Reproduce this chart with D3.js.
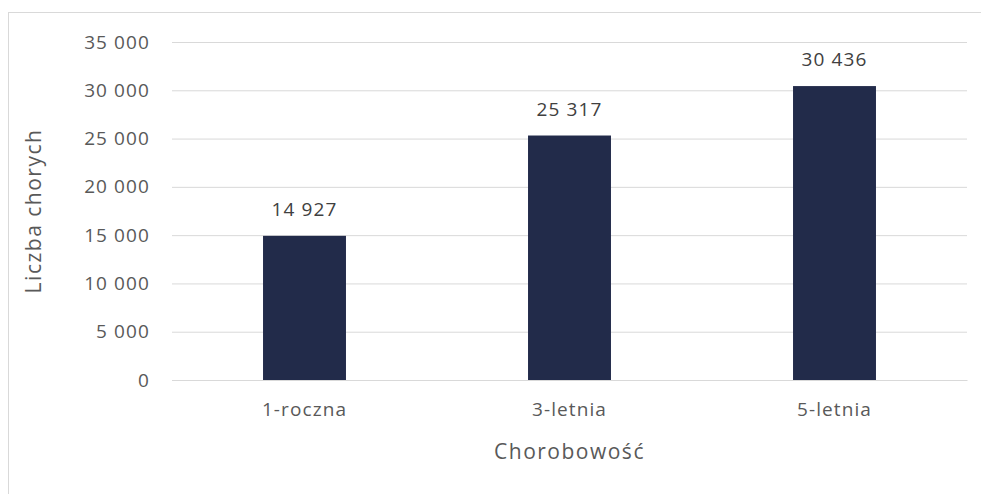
<!DOCTYPE html>
<html><head><meta charset="utf-8">
<script src="https://cdn.jsdelivr.net/npm/d3@7"></script>
<style>body{margin:0;background:#fff}svg{display:block}</style>
</head><body>
<script>
const categories = ["1-roczna", "3-letnia", "5-letnia"];
const values = [14927, 25317, 30436];
const yTicks = [0, 5000, 10000, 15000, 20000, 25000, 30000, 35000];
const yTitle = "Liczba chorych";
const xTitle = "Chorobowość";

const W = 981, H = 494;
const svg = d3.select("body").append("svg").attr("width", W).attr("height", H);
const font = "'Open Sans', Lato, sans-serif";
const fmt = v => d3.format(",")(v).replace(/,/g, " ");

svg.append("rect").attr("x", 8.5).attr("y", 12.5).attr("width", 980).attr("height", 500)
  .attr("fill", "none").attr("stroke", "#d9d9d9").attr("stroke-width", 1);

const m = {l: 172, r: 967, t: 42, b: 380};
const x = d3.scaleBand().domain(categories).range([m.l, m.r]).paddingInner(0.687).paddingOuter(0.3435);
const y = d3.scaleLinear().domain([0, 35000]).range([m.b, m.t]);

const gy = svg.append("g").attr("transform", `translate(${m.l},0)`)
  .call(d3.axisLeft(y).tickValues(yTicks).tickSize(-(m.r - m.l)).tickPadding(22).tickFormat(fmt));
gy.select(".domain").remove();
gy.selectAll(".tick line").attr("stroke", "#d9d9d9").attr("stroke-width", 1);
gy.selectAll(".tick text").attr("fill", "#595959").style("font-family", font)
  .style("font-size", "19px").style("letter-spacing", "1.1px");

svg.selectAll("rect.bar").data(values).join("rect").attr("class", "bar")
  .attr("x", (d, i) => x(categories[i])).attr("width", x.bandwidth())
  .attr("y", d => y(d)).attr("height", d => y(0) - y(d)).attr("fill", "#222B4A");

svg.selectAll("text.lbl").data(values).join("text").attr("class", "lbl")
  .attr("x", (d, i) => x(categories[i]) + x.bandwidth() / 2).attr("y", d => y(d) - 20)
  .attr("text-anchor", "middle").attr("fill", "#404040")
  .style("font-family", font).style("font-size", "19px").style("letter-spacing", "1.1px").text(fmt);

const gx = svg.append("g").attr("transform", `translate(0,${m.b})`)
  .call(d3.axisBottom(x).tickSize(0).tickPadding(23));
gx.select(".domain").attr("stroke", "#d9d9d9");
gx.selectAll(".tick text").attr("fill", "#595959").style("font-family", font)
  .style("font-size", "19px").style("letter-spacing", "1.1px");

svg.append("text").attr("x", (m.l + m.r) / 2).attr("y", 459).attr("text-anchor", "middle")
  .attr("fill", "#595959").style("font-family", font).style("font-size", "21px")
  .style("letter-spacing", "1.5px").text(xTitle);
svg.append("text").attr("transform", `translate(41,${(m.t + m.b) / 2}) rotate(-90)`)
  .attr("text-anchor", "middle").attr("fill", "#595959")
  .style("font-family", font).style("font-size", "21px").style("letter-spacing", "1.5px").text(yTitle);
</script>
</body></html>
